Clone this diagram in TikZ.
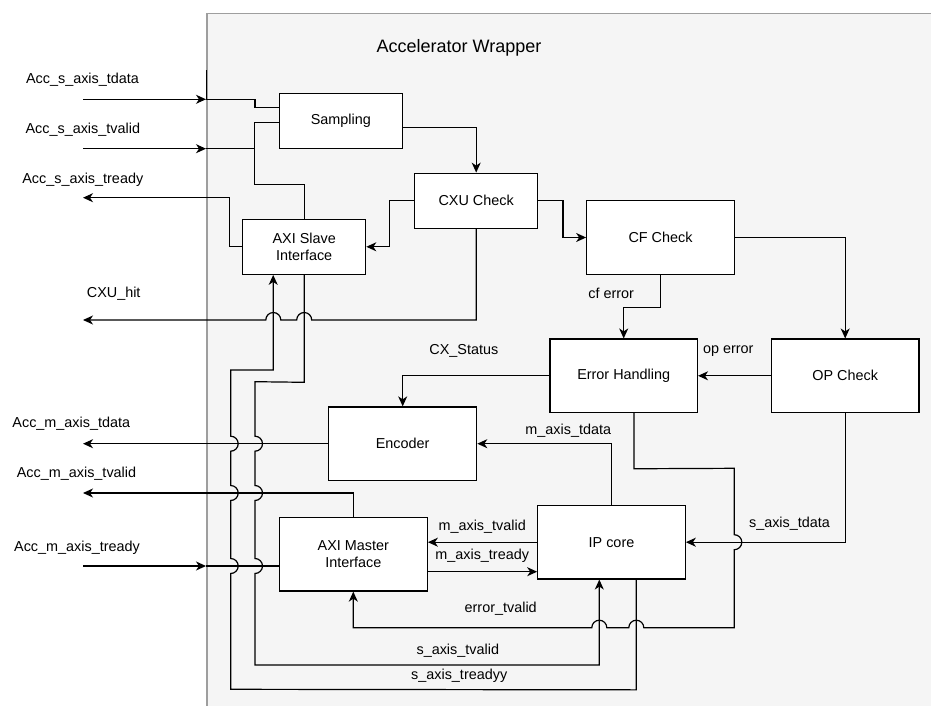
\documentclass[tikz,border=0pt]{standalone}
\usepackage{fontspec}
\setmainfont{Liberation Sans}
\usetikzlibrary{arrows.meta,positioning,calc}
\definecolor{wrapfill}{HTML}{F5F5F5}
\definecolor{wrapline}{HTML}{9E9E9E}
\newcommand{\awfont}{\fontsize{14.4}{17.3}\selectfont}
\tikzset{
  awbox/.style={draw=black, line width=1.2pt, fill=white, align=center, inner sep=2pt, font=\awfont},
  awsmall/.style={awbox, minimum width=123pt, minimum height=55pt},
  awbig/.style={awbox, minimum width=147.5pt, minimum height=73.5pt},
  awline/.style={-{Stealth[length=10pt,width=9pt,inset=3pt]}, line width=1.2pt},
  awwire/.style={line width=1.2pt},
  awlabel/.style={inner sep=0pt, font=\awfont}
}

\begin{document}
\begin{tikzpicture}[x=1pt,y=-1pt]
  \useasboundingbox (0,0) rectangle (931,706);
  \node[draw=wrapline, fill=wrapfill, line width=1.5pt, anchor=north west, inner sep=0pt,
        minimum width=760pt, minimum height=720pt] (wrap) at (206,13) {};
  \node[font=\fontsize{18}{22}\selectfont] (title) at (459,48) {Accelerator Wrapper};

  % blocks
  \node[awsmall] (samp) at (340.8,120.8) {Sampling};
  \node[awsmall] (cxu) at (476.2,200.7) {CXU Check};
  \node[awsmall] (slave) at (304.2,246.8) {AXI Slave\\Interface};
  \node[awbig] (cf) at (660.5,237.5) {CF Check};
  \node[awbig] (err) at (623.7,375.8) {Error Handling};
  \node[awbig] (op) at (845.2,375.8) {OP Check};
  \node[awbig, minimum width=148pt] (enc) at (402.7,443.7) {Encoder};
  \node[awbig] (ip) at (611.5,542.2) {IP core};
  \node[awbig, minimum width=148pt] (master) at (353.3,554.3) {AXI Master\\Interface};

  % ports outside the wrapper
  \coordinate (sTdataIn) at (83,99.3);
  \coordinate (sTvalidIn) at (83,148.7);
  \coordinate (sTreadyOut) at (83,197.7);
  \coordinate (cxuHitOut) at (83,320);
  \coordinate (mTdataOut) at (83,443.7);
  \coordinate (mTvalidOut) at (83,493);
  \coordinate (mTreadyIn) at (83,566);

  \node[awlabel] (lSTdata) at (82.5,80) {Acc\_s\_axis\_tdata};
  \node[awlabel] (lSTvalid) at (82.8,130) {Acc\_s\_axis\_tvalid};
  \node[awlabel] (lSTready) at (82.8,179.3) {Acc\_s\_axis\_tready};
  \node[awlabel] (lCxuHit) at (113.7,293.3) {CXU\_hit};
  \node[awlabel] (lMTdata) at (71.3,423.3) {Acc\_m\_axis\_tdata};
  \node[awlabel] (lMTvalid) at (76.5,474) {Acc\_m\_axis\_tvalid};
  \node[awlabel] (lMTready) at (77,548) {Acc\_m\_axis\_tready};

  % slave side
  \draw[awline] (sTdataIn) -- (sTdataIn -| wrap.west);
  \draw[line width=0.8pt] (sTdataIn -| wrap.west) -- ++(0,-29);
  \draw[awwire] (sTdataIn -| wrap.west) -- ++(49,0) |- ([yshift=13.5pt]samp.west);
  \draw[awline] (sTvalidIn) -- (sTvalidIn -| wrap.west);
  \draw[awwire] (sTvalidIn -| wrap.west) -- ++(49,0);
  \draw[awwire] ([yshift=-1.9pt]samp.west) -- ++(-24.3,0) -- ++(0,61.6) -| (slave.north);
  \draw[awline] (slave.west) -- ++(-12.7,0) |- (sTreadyOut);
  \draw[awline] ([yshift=-6.5pt]samp.east) -| (cxu.north);
  \draw[awline] (cxu.west) -- ++(-24.4,0) |- (slave.east);
  \draw[awline] (cxu.east) -- ++(24.6,0) |- (cf.west);
  \draw[awline] (cxu.south) -- (cxu.south |- cxuHitOut) -- (311.7,320)
    arc[start angle=0, end angle=-180, radius=7.5] -- (280.8,320)
    arc[start angle=0, end angle=-180, radius=7.5] -- (cxuHitOut);

  % checks
  \draw[awline] (cf.east) -| (op.north);
  \draw[awline] (cf.south) -- ++(0,32.4) -| (err.north);
  \draw[awline] (op.west) -- (err.east);
  \draw[awline] (err.west) -| (enc.north);
  \node[awlabel] (lCf) at (611.2,293.3) {cf error};
  \node[awlabel] (lOp) at (728.3,351.3) {op error};
  \node[awlabel] (lStat) at (463.8,350.7) {CX\_Status};

  % ip core
  \draw[awline] (ip.north) |- (enc.east);
  \draw[awline] (op.south) |- (ip.east);
  \draw[awline] (ip.west) -- (ip.west -| master.east);
  \draw[awline] ([yshift=-17.4pt]master.east) -- ([yshift=-17.4pt]master.east -| ip.west);
  \draw[awline] ([xshift=10.3pt]err.south) -- ++(0,55.6) -- (734.3,468.3) -- (734.3,534.7)
    arc[start angle=-90, end angle=90, radius=7.5] -- (734.3,627.7) -- (643.8,627.7)
    arc[start angle=0, end angle=-180, radius=7.5] -- (606.8,627.7)
    arc[start angle=0, end angle=-180, radius=7.5] -- (353.3,627.7) -- (master.south);
  \draw[awline] (slave.south) -- ++(0,107.4) -- (255,381.7) -- (255,436.2)
    arc[start angle=-90, end angle=90, radius=7.5] -- (255,485.5)
    arc[start angle=-90, end angle=90, radius=7.5] -- (255,558.5)
    arc[start angle=-90, end angle=90, radius=7.5] -- (255,665) -| ([xshift=-12.2pt]ip.south);
  \draw[awline] ([xshift=24.8pt]ip.south) -- ++(0,110.3) -- (230.7,689.3) -- (230.7,573.5)
    arc[start angle=90, end angle=-90, radius=7.5] -- (230.7,500.5)
    arc[start angle=90, end angle=-90, radius=7.5] -- (230.7,451.2)
    arc[start angle=90, end angle=-90, radius=7.5] -- (230.7,370) -| ([xshift=-31pt]slave.south);
  \node[awlabel] (lMData) at (568.3,431) {m\_axis\_tdata};
  \node[awlabel] (lSData) at (789.5,523.3) {s\_axis\_tdata};
  \node[awlabel] (lMValid) at (482.2,527) {m\_axis\_tvalid};
  \node[awlabel] (lMReady) at (482.2,556) {m\_axis\_tready};
  \node[awlabel] (lErrV) at (500.7,609) {error\_tvalid};
  \node[awlabel] (lSValid) at (457.8,651) {s\_axis\_tvalid};
  \node[awlabel] (lSReady) at (459.2,675.7) {s\_axis\_treadyy};

  % master side
  \draw[awline] (enc.west) -- (mTdataOut);
  \draw[awline] (master.north) |- (mTvalidOut);
  \draw[awline] (mTreadyIn) -- (mTreadyIn -| wrap.west);
  \draw[awwire] (mTreadyIn -| wrap.west) -- (mTreadyIn -| master.west);
\end{tikzpicture}
\end{document}
